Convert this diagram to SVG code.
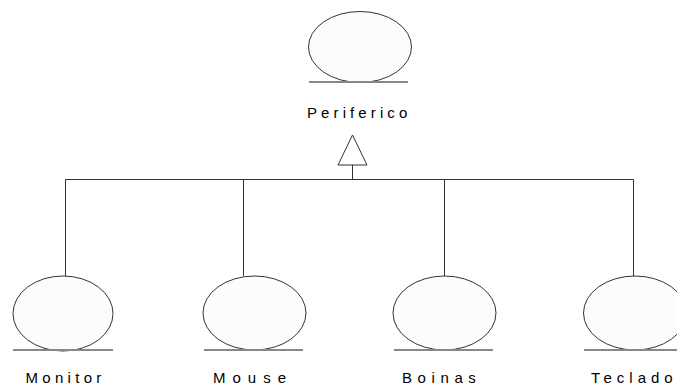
<svg xmlns="http://www.w3.org/2000/svg" width="677" height="388" viewBox="0 0 677 388">
<style>
.bg{fill:#ffffff}
.ell{fill:#fcfcfc;stroke:#333333;stroke-width:1}
.ul{stroke:#888888;stroke-width:2}
.ln{stroke:#333333;stroke-width:1;fill:none}
.tri{fill:#ffffff;stroke:#333333;stroke-width:1}
.lbl{font-family:"Liberation Sans",Arial,sans-serif;font-size:15px;fill:#000000}
</style>
<rect class="bg" x="0" y="0" width="677" height="388"/>
<g id="connectors">
<line class="ln" x1="65.5" y1="179.5" x2="633.5" y2="179.5"/>
<line class="ln" x1="352.5" y1="165" x2="352.5" y2="179.5"/>
<polygon class="tri" points="352.5,135 338,165 367,165"/>
<line class="ln" x1="65.5" y1="179.5" x2="65.5" y2="276"/>
<line class="ln" x1="243.5" y1="179.5" x2="243.5" y2="276"/>
<line class="ln" x1="444.5" y1="179.5" x2="444.5" y2="276"/>
<line class="ln" x1="633.5" y1="179.5" x2="633.5" y2="276"/>
</g>
<g id="periferico">
<ellipse class="ell" cx="360" cy="47" rx="51.5" ry="35.5"/>
<line class="ul" x1="309" y1="82" x2="408" y2="82"/>
<text class="lbl" x="307" y="118" letter-spacing="4.1">Periferico</text>
</g>
<g id="monitor">
<ellipse class="ell" cx="63" cy="313.5" rx="50" ry="37.5"/>
<line class="ul" x1="13" y1="350" x2="113" y2="350"/>
<text class="lbl" x="25.5" y="383" letter-spacing="4.3">Monitor</text>
</g>
<g id="mouse">
<ellipse class="ell" cx="254.5" cy="313" rx="51.5" ry="37"/>
<line class="ul" x1="204" y1="350" x2="303" y2="350"/>
<text class="lbl" x="213" y="383" letter-spacing="7">Mouse</text>
</g>
<g id="boinas">
<ellipse class="ell" cx="444.5" cy="313" rx="51.5" ry="37"/>
<line class="ul" x1="394" y1="350" x2="493" y2="350"/>
<text class="lbl" x="402" y="383" letter-spacing="5.6">Boinas</text>
</g>
<g id="teclado">
<ellipse class="ell" cx="635" cy="313" rx="51.5" ry="37"/>
<line class="ul" x1="584" y1="350" x2="684" y2="350"/>
<text class="lbl" x="591" y="383" letter-spacing="5">Teclado</text>
</g>
</svg>
